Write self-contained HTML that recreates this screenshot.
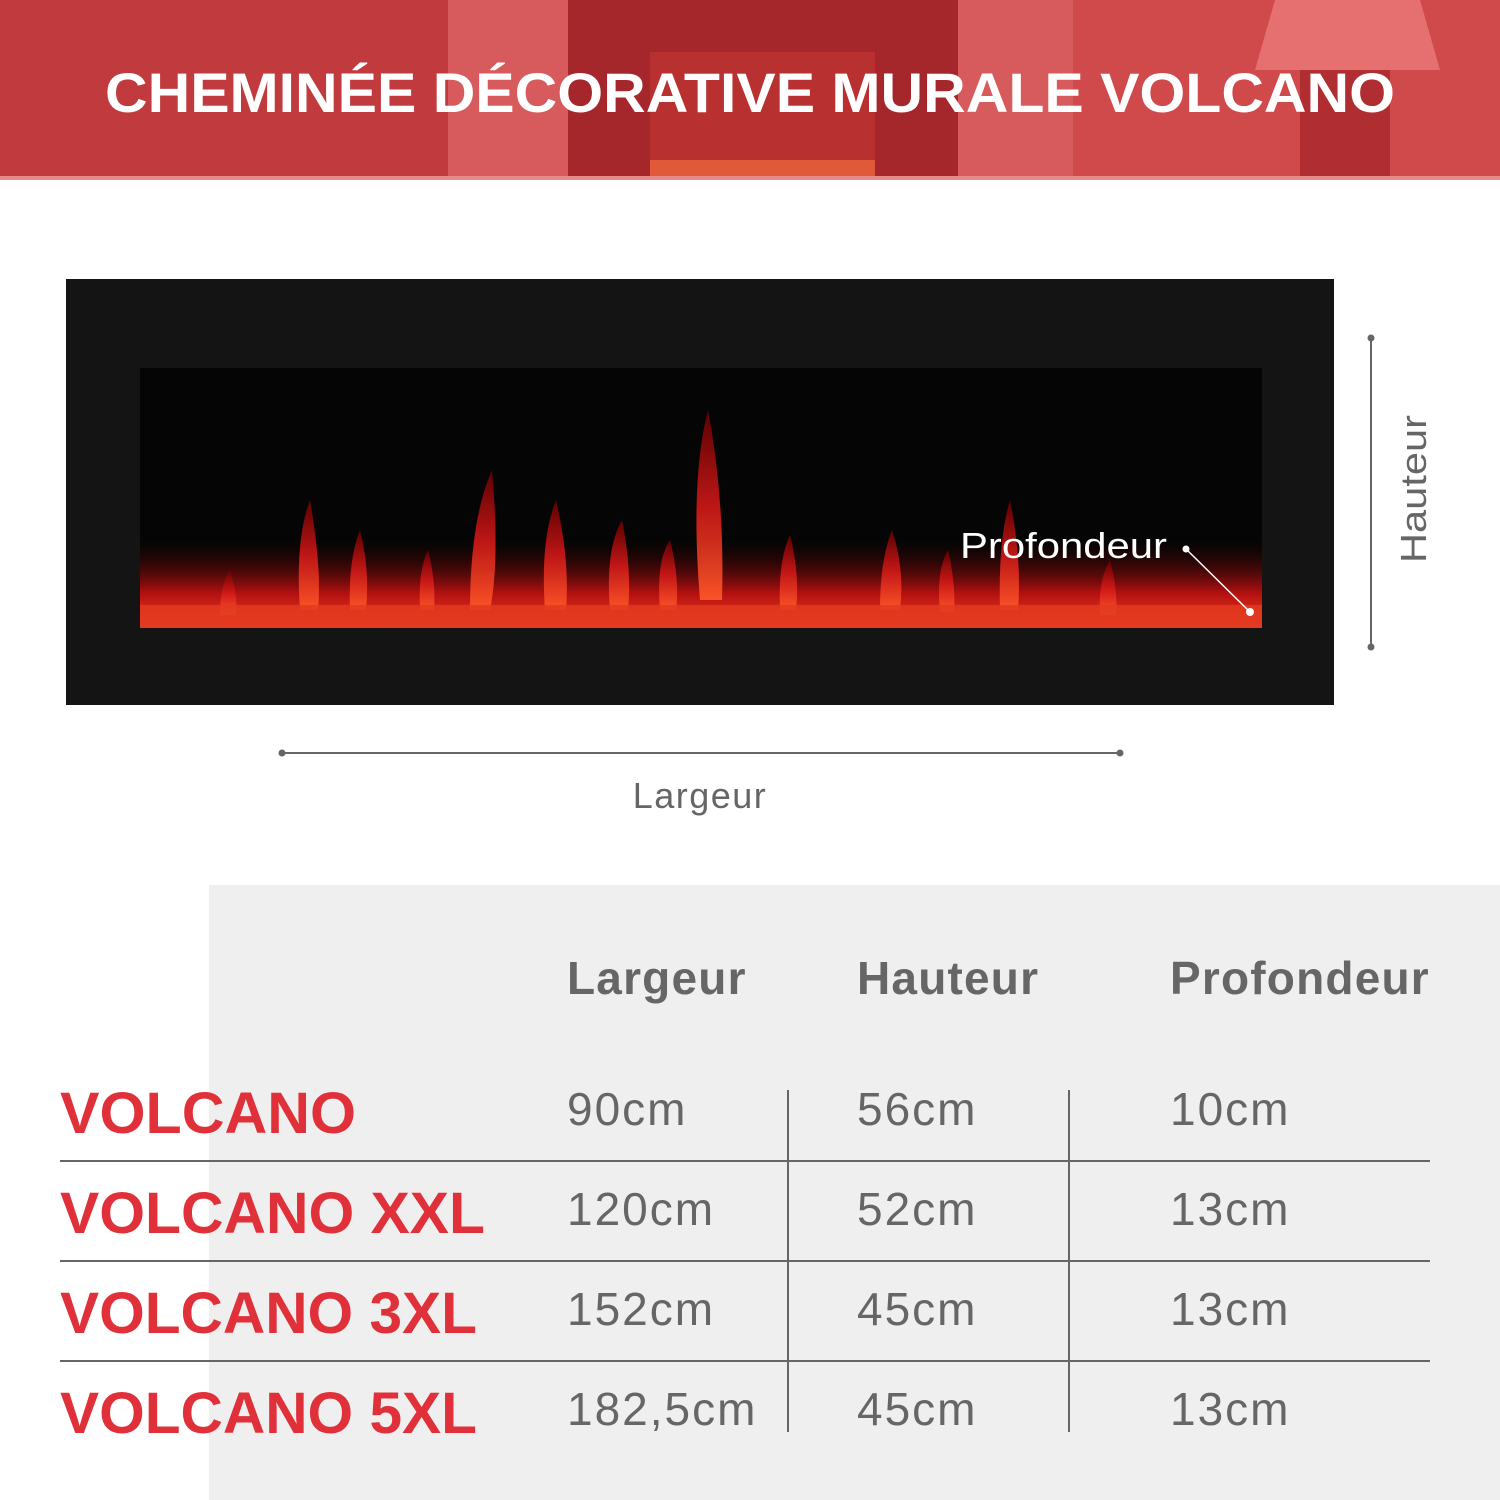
<!DOCTYPE html>
<html><head><meta charset="utf-8"><style>
html,body{margin:0;padding:0;background:#fff;}
svg{display:block;}
text{font-family:"Liberation Sans",sans-serif;}
</style></head><body>
<svg width="1500" height="1500" viewBox="0 0 1500 1500">
<defs>
<linearGradient id="ember" x1="0" y1="0" x2="0" y2="1">
<stop offset="0" stop-color="#300" stop-opacity="0"/>
<stop offset="0.6" stop-color="#b01010"/>
<stop offset="1" stop-color="#ff4020"/>
</linearGradient>
<linearGradient id="flame" x1="0" y1="0" x2="0" y2="1">
<stop offset="0" stop-color="#600" />
<stop offset="0.5" stop-color="#d01818"/>
<stop offset="1" stop-color="#ff5a2a"/>
</linearGradient>
</defs>
<g>
<rect x="0" y="0" width="1500" height="180" fill="#c13a3d"/>
<rect x="448" y="0" width="625" height="180" fill="#d75a5c"/>
<rect x="568" y="0" width="390" height="180" fill="#a5262b"/>
<rect x="650" y="52" width="225" height="128" fill="#b8302f"/>
<rect x="650" y="160" width="225" height="18" fill="#e05a3a"/>
<rect x="1073" y="0" width="427" height="180" fill="#d04a4c"/>
<polygon points="1275,0 1420,0 1440,70 1255,70" fill="#e67070"/>
<rect x="1300" y="70" width="90" height="110" fill="#b02e32"/>
<rect x="0" y="176" width="1500" height="4" fill="#e88a8a"/>
<text x="750" y="112" text-anchor="middle" font-size="56" font-weight="bold" fill="#fff" textLength="1290" lengthAdjust="spacingAndGlyphs">CHEMINÉE DÉCORATIVE MURALE VOLCANO</text>
</g>
<g>
<rect x="66" y="279" width="1268" height="426" fill="#141414"/>
<rect x="140" y="368" width="1122" height="260" fill="#050505"/>
<rect x="140" y="540" width="1122" height="88" fill="url(#ember)"/>
<g fill="url(#flame)" opacity="0.9">
<path d="M700,600 Q690,480 708,410 Q725,500 722,600Z"/>
<path d="M545,610 Q540,540 556,500 Q570,560 566,610Z"/>
<path d="M300,610 Q295,540 310,500 Q322,570 318,610Z"/>
<path d="M470,610 Q470,520 492,470 Q500,560 490,610Z"/>
<path d="M880,610 Q880,560 892,530 Q905,570 900,610Z"/>
<path d="M1000,610 Q998,540 1010,500 Q1022,560 1018,610Z"/>
<path d="M610,610 Q605,550 622,520 Q632,570 628,610Z"/>
<path d="M220,615 Q220,585 230,570 Q238,595 236,615Z"/>
<path d="M350,610 Q348,560 360,530 Q370,570 366,610Z"/>
<path d="M780,610 Q778,560 790,535 Q800,575 796,610Z"/>
<path d="M1100,615 Q1098,580 1110,560 Q1118,590 1116,615Z"/>
<path d="M420,610 Q418,570 428,550 Q436,580 434,610Z"/>
<path d="M660,610 Q656,560 670,540 Q680,580 676,610Z"/>
<path d="M940,612 Q936,570 948,550 Q956,585 954,612Z"/>
</g>
<rect x="140" y="605" width="1122" height="23" fill="#e03a20" opacity="0.85"/>
<text x="960" y="558" font-size="36" fill="#fff" textLength="207" lengthAdjust="spacingAndGlyphs">Profondeur</text>
<circle cx="1186" cy="549" r="3.5" fill="#fff"/>
<line x1="1186" y1="549" x2="1250" y2="612" stroke="#fff" stroke-width="1.5"/>
<circle cx="1250" cy="612" r="4" fill="#fff"/>
</g>
<g>
<line x1="1371" y1="338" x2="1371" y2="647" stroke="#666" stroke-width="2"/>
<circle cx="1371" cy="338" r="3.5" fill="#666"/><circle cx="1371" cy="647" r="3.5" fill="#666"/>
<text transform="translate(1426,489) rotate(-90)" text-anchor="middle" font-size="36" fill="#666" textLength="148" lengthAdjust="spacingAndGlyphs">Hauteur</text>
</g>
<g>
<line x1="282" y1="753" x2="1120" y2="753" stroke="#666" stroke-width="2"/>
<circle cx="282" cy="753" r="3.5" fill="#666"/><circle cx="1120" cy="753" r="3.5" fill="#666"/>
<text x="700" y="808" text-anchor="middle" font-size="36" fill="#666" letter-spacing="1.5">Largeur</text>
</g>
<g>
<rect x="209" y="885" width="1291" height="615" fill="#efefef"/>
<g font-size="46" font-weight="bold" fill="#666" letter-spacing="1.2">
<text x="567" y="994">Largeur</text>
<text x="857" y="994">Hauteur</text>
<text x="1170" y="994">Profondeur</text>
</g>
<g stroke="#666" stroke-width="2">
<line x1="60" y1="1161" x2="1430" y2="1161"/>
<line x1="60" y1="1261" x2="1430" y2="1261"/>
<line x1="60" y1="1361" x2="1430" y2="1361"/>
<line x1="788" y1="1090" x2="788" y2="1432"/>
<line x1="1069" y1="1090" x2="1069" y2="1432"/>
</g>
<g font-size="58" font-weight="bold" fill="#e0313a">
<text x="60" y="1133" textLength="296" lengthAdjust="spacingAndGlyphs">VOLCANO</text>
<text x="60" y="1233" textLength="425" lengthAdjust="spacingAndGlyphs">VOLCANO XXL</text>
<text x="60" y="1333" textLength="417" lengthAdjust="spacingAndGlyphs">VOLCANO 3XL</text>
<text x="60" y="1433" textLength="417" lengthAdjust="spacingAndGlyphs">VOLCANO 5XL</text>
</g>
<g font-size="46" fill="#666" letter-spacing="2">
<text x="567" y="1125">90cm</text><text x="857" y="1125">56cm</text><text x="1170" y="1125">10cm</text>
<text x="567" y="1225">120cm</text><text x="857" y="1225">52cm</text><text x="1170" y="1225">13cm</text>
<text x="567" y="1325">152cm</text><text x="857" y="1325">45cm</text><text x="1170" y="1325">13cm</text>
<text x="567" y="1425">182,5cm</text><text x="857" y="1425">45cm</text><text x="1170" y="1425">13cm</text>
</g>
</g>
</svg>
</body></html>
